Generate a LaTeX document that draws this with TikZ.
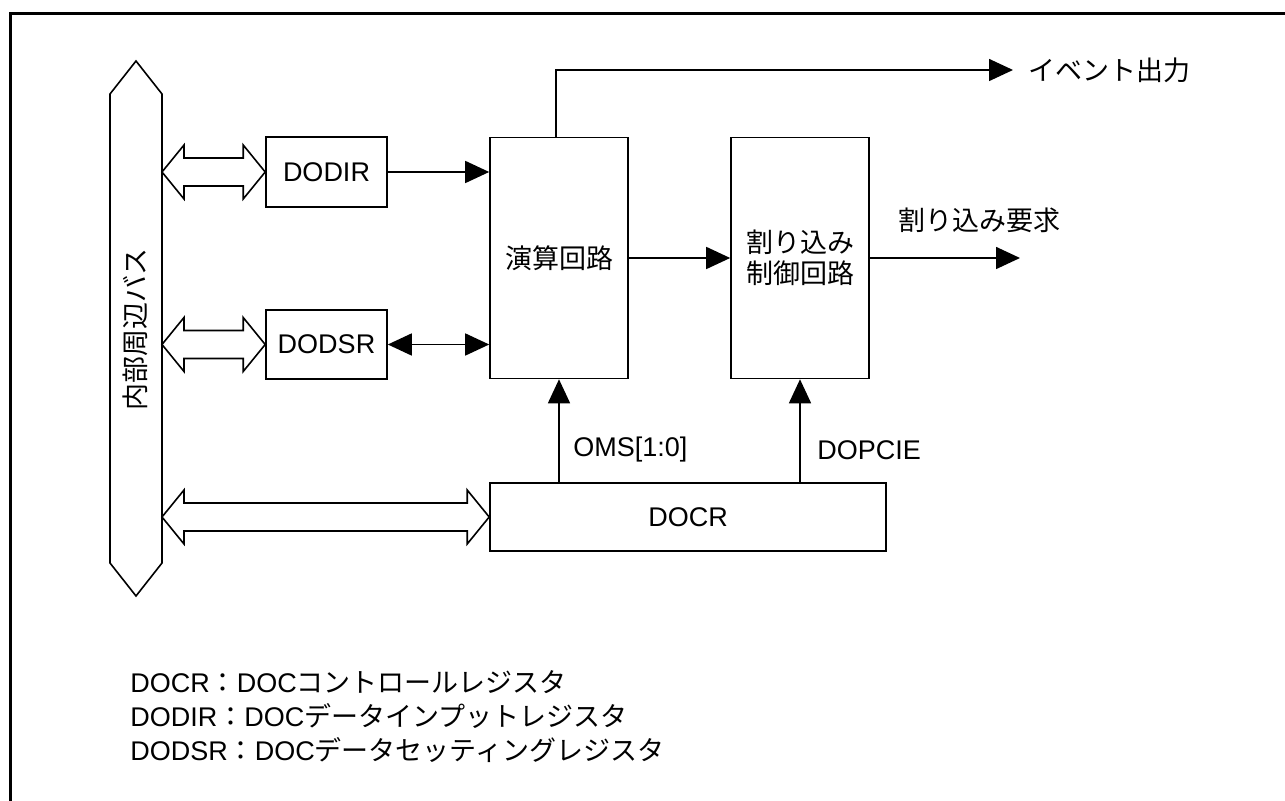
\documentclass[tikz,border=0pt]{standalone}
\usepackage{fontspec}
\setmainfont{Liberation Sans}
\newfontfamily\jp{Noto Sans CJK JP}
\usetikzlibrary{arrows.meta,calc}

\tikzset{
  blk/.style={draw, line width=0.8pt, inner sep=0pt, align=center,
              font=\fontsize{13.5}{15.5}\selectfont},
  lbl/.style={inner sep=0pt, font=\fontsize{13.5}{15.5}\selectfont},
  sig/.style={line width=0.8pt, -{Triangle[length=12pt,width=11pt]}},
  bisig/.style={line width=0.8pt,
                {Triangle[length=12pt,width=11pt]}-{Triangle[length=12pt,width=11pt]}},
  fat/.style={draw, line width=0.8pt, fill=white, line join=miter},
}

% hollow two-way bus arrow from #1 (left tip) to #2 (right tip)
\newcommand{\fatarrow}[2]{%
  \path (#1) coordinate (fa) (#2) coordinate (fb);
  \draw[fat] (fa) -- ++(22,-27) -- ++(0,13) -- ($(fb)+(-22,-14)$) -- ++(0,-13)
    -- (fb) -- ++(-22,27) -- ++(0,-13) -- ($(fa)+(22,14)$) -- ++(0,13) -- cycle;}

\begin{document}
\begin{tikzpicture}[x=0.5pt, y=-0.5pt]
  \useasboundingbox (0,0) rectangle (1285,801);
  \draw[line width=1.5pt] (10.8,801) -- (10.8,13.8) -- (1285,13.8);

  % internal bus
  \draw[line width=0.8pt] (136,61) -- (162,94) -- (162,563) -- (136,596)
    -- (110,563) -- (110,94) -- cycle;
  \node[lbl, rotate=90] (bus) at (135,330) {\jp 内部周辺バス};
  \coordinate (busedge) at (162,0);

  % blocks
  \node[blk, minimum width=60.5pt, minimum height=35pt] (dodir) at (326.5,172) {DODIR};
  \node[blk, minimum width=60.5pt, minimum height=34.5pt] (dodsr) at (326.5,344.5) {DODSR};
  \node[blk, minimum width=69pt, minimum height=120.5pt] (calc) at (559,258) {\jp 演算回路};
  \node[blk, minimum width=69pt, minimum height=120.5pt] (intc) at (800,258)
    {\jp 割り込み\\\jp 制御回路};
  \node[blk, minimum width=198pt, minimum height=34pt] (docr) at (688,517) {DOCR};

  % bus arrows
  \fatarrow{dodir.west -| busedge}{dodir.west}
  \fatarrow{dodsr.west -| busedge}{dodsr.west}
  \fatarrow{docr.west -| busedge}{docr.west}

  % signals
  \coordinate (evtend) at (1013,70);
  \coordinate (irqend) at (1020,258);
  \draw[sig] (dodir.east) -- (dodir.east -| calc.west);
  \draw[bisig] (dodsr.east) -- (dodsr.east -| calc.west);
  \draw[sig] (calc.east) -- (intc.west);
  \draw[sig] (intc.east) -- (irqend);
  \draw[sig] ([xshift=-1.5pt]calc.north) |- (evtend);
  \draw[sig] (docr.north -| calc.south) -- (calc.south);
  \draw[sig] (docr.north -| intc.south) -- (intc.south);

  \node[lbl, anchor=west] (evt) at (1028,70) {\jp イベント出力};
  \node[lbl] (irq) at (979,220) {\jp 割り込み要求};
  \node[lbl, anchor=west] (oms) at (573,450) {OMS[1:0]};
  \node[lbl, anchor=west] (dopcie) at (817,450) {DOPCIE};

  % legend
  \node[lbl, anchor=west] (key1) at (130,682) {DOCR{\jp ：}DOC{\jp コントロールレジスタ}};
  \node[lbl, anchor=west] (key2) at (130,716) {DODIR{\jp ：}DOC{\jp データインプットレジスタ}};
  \node[lbl, anchor=west] (key3) at (130,750) {DODSR{\jp ：}DOC{\jp データセッティングレジスタ}};
\end{tikzpicture}
\end{document}
